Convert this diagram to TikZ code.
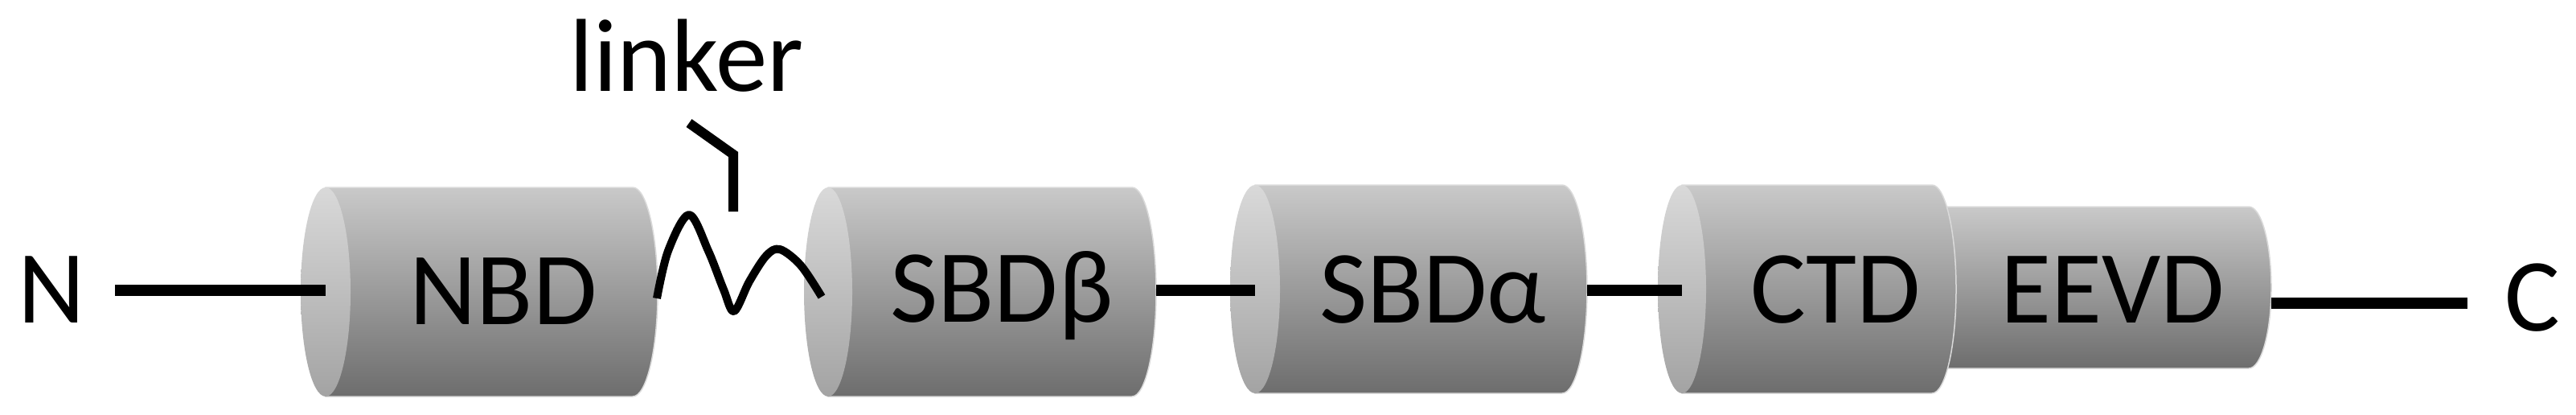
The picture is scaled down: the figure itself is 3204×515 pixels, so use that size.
\documentclass[tikz,border=0pt]{standalone}
\usepackage{fontspec}
\setmainfont{Carlito}
\definecolor{bodytop}{HTML}{C9C9C9}
\definecolor{bodybot}{HTML}{6D6D6D}
\definecolor{facetop}{HTML}{D9D9D9}
\definecolor{facebot}{HTML}{A3A3A3}
\definecolor{rim}{HTML}{DADADA}
\newcommand\domcyl[6]{% name, xl, xr, cy, ry, rx
  \path[body] (#2,#4-#5) -- (#3,#4-#5) arc[start angle=-90,end angle=90,x radius=#6,y radius=#5] -- (#2,#4+#5) -- cycle;
  \path[face] (#2,#4) ellipse[x radius=#6, y radius=#5];
  \coordinate (#1-l) at (#2,#4);
  \coordinate (#1-r) at (#3+#6,#4);
}
\tikzset{
  body/.style={top color=bodytop, bottom color=bodybot, draw=rim, line width=1.5pt},
  bodyplain/.style={top color=bodytop, bottom color=bodybot, draw=rim, line width=1.5pt},
  face/.style={top color=facetop, bottom color=facebot, draw=none},
  conn/.style={line width=14pt, black},
  wavy/.style={line width=10pt, black, line join=round},
  pointer/.style={line width=12pt, black, line join=miter},
  lbl/.style={font=\fontsize{129}{150}\selectfont, anchor=base, inner sep=0pt},
}
\begin{document}
\begin{tikzpicture}[x=1pt, y=-1pt]
\useasboundingbox (0,0) rectangle (3204,515);
% EEVD (behind CTD)
\path[bodyplain] (2380,257) -- (2797,257) arc[start angle=-90,end angle=90,x radius=28,y radius=100.5] -- (2380,458) -- cycle;
\coordinate (EEVD-r) at (2825,357.5);
% cylinders
\domcyl{NBD}{405}{787}{363}{130}{31}
\domcyl{SBDb}{1030}{1408}{363}{130}{30}
\domcyl{SBDa}{1561}{1943}{359.5}{129.5}{31}
\domcyl{CTD}{2092}{2403}{359.5}{129.5}{30}
% connectors
\coordinate (axis) at (0,361);
\coordinate (Nend) at (143,361);
\coordinate (Cend) at (3069,377);
\draw[conn] (Nend) -- (Nend -| NBD-l);
\draw[conn] (SBDb-r |- axis) -- (SBDa-l |- axis);
\draw[conn] (SBDa-r |- axis) -- (CTD-l |- axis);
\draw[conn] (EEVD-r |- Cend) -- (Cend);
% linker wave
\draw[wavy] plot[smooth, tension=0.55] coordinates {(817,371) (831,312) (857,267) (881,312) (900,360) (913,387) (932,350) (953,318) (970,310) (996,330) (1022,369)};
% pointer from label
\coordinate (pbot) at (912,263);
\coordinate (pknee) at (912,192);
\coordinate (ptop) at (857,153);
\draw[pointer] (pbot) -- (pknee) -- (ptop);
% labels
\node[lbl] (N) at (64,401) {N};
\node[lbl] (NBDt) at (626,403) {NBD};
\node[lbl] (SBDbt) at (1246,400) {SBDβ};
\node[lbl] (SBDat) at (1782,401) {SBDα};
\node[lbl] (CTDt) at (2283,401) {CTD};
\node[lbl] (EEVDt) at (2628,401) {EEVD};
\node[lbl] (C) at (3150,411) {C};
\node[lbl] (linker) at (854,113) {linker};
\end{tikzpicture}
\end{document}
